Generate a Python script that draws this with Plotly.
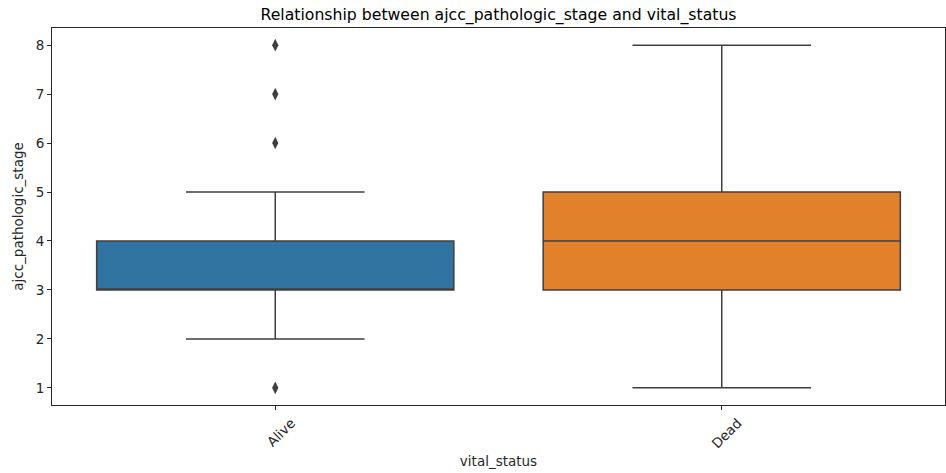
import plotly.graph_objects as go

categories = ["Alive", "Dead"]
q1 = [3, 3]
median = [3, 4]
q3 = [4, 5]
lower = [2, 1]
upper = [5, 8]
colors = ["#3274a1", "#e1812c"]
outliers_alive = [1, 6, 7, 8]

fig = go.Figure()
for i, c in enumerate(categories):
    fig.add_trace(go.Box(
        x=[c], q1=[q1[i]], median=[median[i]], q3=[q3[i]],
        lowerfence=[lower[i]], upperfence=[upper[i]],
        fillcolor=colors[i], line=dict(color="#3f3f3f", width=1.5),
        width=0.8, whiskerwidth=0.5, boxpoints=False, showlegend=False,
    ))
fig.add_trace(go.Scatter(
    x=["Alive"] * len(outliers_alive), y=outliers_alive, mode="markers",
    marker=dict(symbol="diamond-tall", size=9, color="#3f3f3f"),
    showlegend=False, hoverinfo="y",
))

font = "DejaVu Sans, Arial, sans-serif"
fig.update_layout(
    width=946, height=473,
    margin=dict(l=52, r=1, t=28, b=68),
    plot_bgcolor="white", paper_bgcolor="white",
    font=dict(family=font, size=13.5, color="#262626"),
    title=dict(text="Relationship between ajcc_pathologic_stage and vital_status",
               x=0.5, xref="paper", xanchor="center", y=1 - 15 / 473, yanchor="middle",
               font=dict(size=15.7, color="black")),
    xaxis=dict(
        type="category", categoryorder="array", categoryarray=categories,
        range=[-0.5, 1.5], showline=True, mirror=True, linecolor="#262626", linewidth=1,
        ticks="outside", ticklen=4, tickcolor="#262626", tickangle=-45,
        ticklabelshift=16, tickfont=dict(size=13.5, color="#262626"),
        title=dict(text="vital_status", font=dict(size=13.5), standoff=6),
        showgrid=False, zeroline=False,
    ),
    yaxis=dict(
        range=[0.65, 8.35], tickvals=[1, 2, 3, 4, 5, 6, 7, 8],
        showline=True, mirror=True, linecolor="#262626", linewidth=1,
        ticks="outside", ticklen=4, tickcolor="#262626",
        tickfont=dict(size=13.5, color="#262626"),
        title=dict(text="ajcc_pathologic_stage", font=dict(size=13.5), standoff=8),
        showgrid=False, zeroline=False,
    ),
)
fig.write_html("out.html")
